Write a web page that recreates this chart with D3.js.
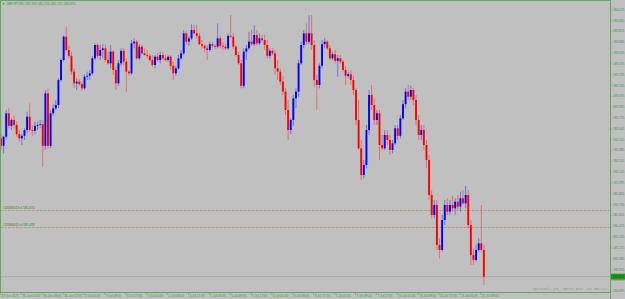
<!DOCTYPE html>
<html>
<head>
<meta charset="utf-8">
<script src="https://cdn.jsdelivr.net/npm/d3@7"></script>
<style>
html, body { margin: 0; padding: 0; background: #c0c0c0; overflow: hidden; }
</style>
</head>
<body>
<div id="viz"></div>
<script>
// GBPJPY H1, one row per bar: [open, high, low, close]
const symbol = "GBPJPY,H1";
const candles = [
    [182.53, 182.58, 182.39, 182.44], [182.44, 182.56, 182.35, 182.55], [182.55, 182.87, 182.52, 182.83], [182.83, 182.89, 182.65, 182.68],
    [182.68, 182.77, 182.63, 182.75], [182.75, 182.80, 182.65, 182.69], [182.69, 182.73, 182.55, 182.58], [182.58, 182.63, 182.49, 182.53],
    [182.53, 182.58, 182.45, 182.56], [182.56, 182.65, 182.51, 182.63], [182.63, 182.85, 182.59, 182.79], [182.79, 182.95, 182.61, 182.63],
    [182.63, 182.69, 182.56, 182.62], [182.62, 182.73, 182.58, 182.68], [182.68, 182.73, 182.63, 182.69], [182.69, 182.75, 182.65, 182.70],
    [182.70, 182.75, 182.19, 182.44], [182.44, 183.11, 182.39, 183.07], [183.07, 183.13, 182.41, 182.44], [182.44, 182.87, 182.41, 182.83],
    [182.83, 182.94, 182.80, 182.89], [182.89, 182.99, 182.87, 182.93], [182.93, 183.25, 182.89, 183.23], [183.23, 183.49, 183.21, 183.47],
    [183.47, 183.77, 183.45, 183.75], [183.75, 183.87, 183.57, 183.59], [183.59, 183.64, 183.49, 183.52], [183.52, 183.57, 183.29, 183.33],
    [183.33, 183.37, 183.13, 183.19], [183.19, 183.25, 183.11, 183.21], [183.21, 183.24, 183.16, 183.18], [183.18, 183.21, 183.10, 183.13],
    [183.13, 183.30, 183.11, 183.27], [183.27, 183.33, 183.23, 183.28], [183.28, 183.35, 183.23, 183.31], [183.31, 183.52, 183.29, 183.49],
    [183.49, 183.67, 183.47, 183.65], [183.65, 183.67, 183.49, 183.52], [183.52, 183.65, 183.47, 183.59], [183.59, 183.66, 183.49, 183.61],
    [183.61, 183.66, 183.45, 183.47], [183.47, 183.57, 183.41, 183.43], [183.43, 183.65, 183.37, 183.57], [183.57, 183.59, 183.29, 183.35],
    [183.35, 183.39, 183.11, 183.19], [183.19, 183.47, 183.16, 183.43], [183.43, 183.61, 183.40, 183.58], [183.58, 183.61, 183.41, 183.45],
    [183.45, 183.49, 183.09, 183.33], [183.33, 183.35, 183.28, 183.31], [183.31, 183.71, 183.29, 183.67], [183.67, 183.73, 183.61, 183.69],
    [183.69, 183.71, 183.47, 183.49], [183.49, 183.66, 183.47, 183.63], [183.63, 183.65, 183.53, 183.55], [183.55, 183.61, 183.52, 183.53],
    [183.53, 183.59, 183.49, 183.52], [183.52, 183.54, 183.45, 183.47], [183.47, 183.53, 183.39, 183.41], [183.41, 183.53, 183.37, 183.51],
    [183.51, 183.55, 183.45, 183.47], [183.47, 183.57, 183.43, 183.53], [183.53, 183.57, 183.47, 183.49], [183.49, 183.54, 183.45, 183.47],
    [183.47, 183.53, 183.45, 183.51], [183.51, 183.53, 183.35, 183.40], [183.40, 183.45, 183.23, 183.31], [183.31, 183.40, 183.28, 183.37],
    [183.37, 183.53, 183.35, 183.49], [183.49, 183.59, 183.47, 183.55], [183.55, 183.83, 183.53, 183.79], [183.79, 183.82, 183.65, 183.69],
    [183.69, 183.76, 183.64, 183.73], [183.73, 183.90, 183.71, 183.83], [183.83, 183.89, 183.78, 183.79], [183.79, 183.89, 183.73, 183.76],
    [183.76, 183.79, 183.65, 183.66], [183.66, 183.71, 183.61, 183.64], [183.64, 183.66, 183.57, 183.61], [183.61, 183.65, 183.47, 183.59],
    [183.59, 183.69, 183.57, 183.66], [183.66, 183.69, 183.61, 183.64], [183.64, 183.66, 183.60, 183.63], [183.63, 183.91, 183.61, 183.73],
    [183.73, 183.76, 183.61, 183.64], [183.64, 183.69, 183.59, 183.63], [183.63, 183.66, 183.59, 183.61], [183.61, 183.79, 183.59, 183.76],
    [183.76, 184.01, 183.73, 183.75], [183.75, 183.79, 183.60, 183.63], [183.63, 183.65, 183.51, 183.53], [183.53, 183.57, 183.41, 183.43],
    [183.43, 183.47, 183.13, 183.16], [183.16, 183.61, 183.13, 183.57], [183.57, 183.65, 183.47, 183.61], [183.61, 183.81, 183.59, 183.69],
    [183.69, 183.83, 183.64, 183.66], [183.66, 183.89, 183.64, 183.77], [183.77, 183.83, 183.65, 183.67], [183.67, 183.79, 183.65, 183.73],
    [183.73, 183.77, 183.69, 183.71], [183.71, 183.77, 183.59, 183.65], [183.65, 183.71, 183.49, 183.52], [183.52, 183.61, 183.49, 183.58],
    [183.58, 183.61, 183.53, 183.55], [183.55, 183.59, 183.29, 183.37], [183.37, 183.47, 183.23, 183.33], [183.33, 183.37, 183.17, 183.21],
    [183.21, 183.28, 183.05, 183.09], [183.09, 183.13, 182.81, 182.87], [182.87, 182.99, 182.51, 182.63], [182.63, 182.77, 182.58, 182.75],
    [182.75, 183.05, 182.68, 183.01], [183.01, 183.13, 182.89, 183.09], [183.09, 183.47, 183.03, 183.43], [183.43, 183.69, 183.41, 183.65],
    [183.65, 183.83, 183.61, 183.79], [183.79, 183.91, 183.65, 183.69], [183.69, 184.01, 183.66, 183.79], [183.79, 184.01, 183.59, 183.65],
    [183.65, 183.71, 183.15, 183.23], [183.23, 183.29, 182.87, 183.17], [183.17, 183.43, 183.13, 183.40], [183.40, 183.71, 183.37, 183.66],
    [183.66, 183.73, 183.61, 183.69], [183.69, 183.71, 183.59, 183.61], [183.61, 183.65, 183.47, 183.49], [183.49, 183.57, 183.47, 183.54],
    [183.54, 183.59, 183.43, 183.46], [183.46, 183.53, 183.27, 183.49], [183.49, 183.53, 183.42, 183.45], [183.45, 183.47, 183.33, 183.35],
    [183.35, 183.40, 183.17, 183.28], [183.28, 183.33, 183.25, 183.30], [183.30, 183.35, 183.17, 183.23], [183.23, 183.28, 183.05, 183.11],
    [183.11, 183.13, 182.69, 182.75], [182.75, 182.99, 182.39, 182.41], [182.41, 182.51, 182.03, 182.09], [182.09, 182.27, 182.05, 182.21],
    [182.21, 182.69, 182.17, 182.63], [182.63, 183.11, 182.57, 183.05], [183.05, 183.17, 182.87, 182.93], [182.93, 183.01, 182.69, 182.75],
    [182.75, 182.87, 182.69, 182.83], [182.83, 182.87, 182.27, 182.45], [182.45, 182.57, 182.39, 182.41], [182.41, 182.63, 182.39, 182.57],
    [182.57, 182.63, 182.45, 182.51], [182.51, 182.57, 182.33, 182.39], [182.39, 182.51, 182.35, 182.47], [182.47, 182.69, 182.45, 182.65],
    [182.65, 182.69, 182.51, 182.56], [182.56, 182.81, 182.53, 182.77], [182.77, 182.99, 182.75, 182.94], [182.94, 183.13, 182.89, 183.09],
    [183.09, 183.17, 182.99, 183.03], [183.03, 183.16, 182.99, 183.11], [183.11, 183.13, 182.93, 182.99], [182.99, 183.05, 182.69, 182.75],
    [182.75, 182.81, 182.51, 182.57], [182.57, 182.69, 182.51, 182.63], [182.63, 182.69, 182.39, 182.45], [182.45, 182.51, 182.17, 182.27],
    [182.27, 182.33, 181.79, 181.85], [181.85, 181.91, 181.57, 181.61], [181.61, 181.79, 181.57, 181.73], [181.73, 181.79, 181.19, 181.25],
    [181.25, 181.33, 181.09, 181.19], [181.19, 181.61, 181.17, 181.55], [181.55, 181.79, 181.49, 181.73], [181.73, 181.81, 181.61, 181.65],
    [181.65, 181.79, 181.61, 181.73], [181.73, 181.84, 181.65, 181.69], [181.69, 181.81, 181.61, 181.77], [181.77, 181.85, 181.67, 181.71],
    [181.71, 181.89, 181.65, 181.81], [181.81, 181.91, 181.73, 181.75], [181.75, 181.96, 181.69, 181.85], [181.85, 181.91, 181.45, 181.49],
    [181.49, 181.55, 181.01, 181.13], [181.13, 181.21, 181.01, 181.07], [181.07, 181.25, 181.05, 181.19], [181.19, 181.33, 181.17, 181.27],
    [181.27, 181.73, 181.17, 181.19], [181.19, 181.25, 180.77, 180.87]
];

const priceTicks = [
    "184.075", "183.945", "183.815", "183.685", "183.555", "183.425", "183.295", "183.165", "183.035",
    "182.905", "182.775", "182.645", "182.515", "182.385", "182.255", "182.125", "181.995", "181.865",
    "181.735", "181.605", "181.475", "181.345", "181.215", "181.085", "180.955", "180.825", "180.695"
];

const timeLabels = [
    "29 Jun 2023", "30 Jun 01:00", "30 Jun 09:00", "30 Jun 17:00", "3 Jul 01:00", "3 Jul 09:00",
    "3 Jul 17:00", "4 Jul 01:00", "4 Jul 09:00", "4 Jul 17:00", "5 Jul 01:00", "5 Jul 09:00",
    "5 Jul 17:00", "6 Jul 01:00", "6 Jul 09:00", "6 Jul 17:00", "7 Jul 01:00", "7 Jul 09:00",
    "7 Jul 17:00", "10 Jul 01:00", "10 Jul 09:00", "10 Jul 17:00", "11 Jul 01:00", "11 Jul 09:00"
];
const barsPerLabel = 8;

const orderLines = [
    { label: "#20580613 sl", price: 181.67 },
    { label: "#20580612 sl", price: 181.47 }
];

const spreadText = "Spread: 13, Next Bar in 56:21";

document.addEventListener("DOMContentLoaded", () => {
    const width = 625;
    const height = 299;
    const plotRight = 610;
    const plotBottom = 292;
    const green = "#5ea85e";
    const textGreen = "#3f953f";

    const svg = d3.select('#viz').append('svg')
        .attr('width', width)
        .attr('height', height);

    svg.append('rect')
        .attr('width', width)
        .attr('height', height)
        .attr('fill', '#c0c0c0');

    const x = d3.scaleLinear()
        .domain([0, candles.length - 1])
        .range([1, 483.9]);

    const y = d3.scaleLinear()
        .domain([184.19, 180.70])
        .range([0, 290.8]);

    const fmt = d3.format(".3f");
    const last = candles[candles.length - 1];

    // bid line
    svg.append("line")
        .attr("x1", 0).attr("x2", plotRight)
        .attr("y1", y(last[3])).attr("y2", y(last[3]))
        .attr("stroke", "#adadad")
        .attr("stroke-width", 1.2);

    // order lines, red and green dashes
    orderLines.forEach(o => {
        const yy = Math.round(y(o.price)) + 0.5;
        svg.append("line")
            .attr("x1", 0).attr("x2", plotRight)
            .attr("y1", yy).attr("y2", yy)
            .attr("stroke", "#e07878")
            .attr("stroke-dasharray", "2.5,1,1,3.5")
            .attr("stroke-width", 0.8);
        svg.append("line")
            .attr("x1", 0).attr("x2", plotRight)
            .attr("y1", yy).attr("y2", yy)
            .attr("stroke", "#78b878")
            .attr("stroke-dasharray", "2.5,5.5")
            .attr("stroke-dashoffset", -4.5)
            .attr("stroke-width", 0.8);
        svg.append("text")
            .attr("x", 3)
            .attr("y", yy - 1.5)
            .attr("font-family", "Liberation Sans")
            .attr("font-size", "3.2px")
            .attr("fill", "#2f7f2f")
            .text(o.label + " " + fmt(o.price));
    });

    // candles
    const bars = svg.append("g").selectAll("g")
        .data(candles)
        .enter()
        .append("g");

    bars.append("line")
        .attr("x1", (d, i) => x(i))
        .attr("x2", (d, i) => x(i))
        .attr("y1", d => y(d[1]))
        .attr("y2", d => y(d[2]))
        .attr("stroke", d => d[3] >= d[0] ? "#0000ff" : "#ff0000")
        .attr("stroke-opacity", 0.45)
        .attr("stroke-width", 0.9);

    bars.append("rect")
        .attr("x", (d, i) => x(i) - 0.95)
        .attr("width", 1.9)
        .attr("y", d => y(Math.max(d[0], d[3])))
        .attr("height", d => Math.max(0.8, Math.abs(y(d[0]) - y(d[3]))))
        .attr("fill", d => d[3] >= d[0] ? "#0000ff" : "#ff0000");

    // frame
    svg.append("line").attr("x1", 0.5).attr("x2", 0.5).attr("y1", 0).attr("y2", plotBottom)
        .attr("stroke", green);
    svg.append("line").attr("x1", 0).attr("x2", plotRight).attr("y1", 0.5).attr("y2", 0.5)
        .attr("stroke", green);
    svg.append("line").attr("x1", plotRight + 0.5).attr("x2", plotRight + 0.5).attr("y1", 0).attr("y2", height)
        .attr("stroke", green);
    svg.append("line").attr("x1", 0).attr("x2", plotRight).attr("y1", plotBottom + 0.5).attr("y2", plotBottom + 0.5)
        .attr("stroke", green);

    // price axis
    const pAxis = svg.append("g").selectAll("g")
        .data(priceTicks)
        .enter()
        .append("g")
        .attr("transform", d => "translate(" + plotRight + " " + y(+d) + ")");

    pAxis.append("line").attr("x2", 2).attr("stroke", green).attr("stroke-width", 0.6);
    pAxis.append("text")
        .attr("x", 3)
        .attr("dy", "0.35em")
        .attr("font-family", "Liberation Sans")
        .attr("font-size", "3.1px")
        .attr("fill", textGreen)
        .text(d => d);

    // current price box
    const bid = svg.append("g").attr("transform", "translate(" + plotRight + " " + y(last[3]) + ")");
    bid.append("rect").attr("x", 1).attr("y", -3).attr("width", 14).attr("height", 6).attr("fill", "#1f9a1f");
    bid.append("text")
        .attr("x", 3)
        .attr("dy", "0.35em")
        .attr("font-family", "Liberation Sans")
        .attr("font-size", "3.1px")
        .attr("fill", "#0b4f0b")
        .text(fmt(last[3]));

    // time axis
    const tAxis = svg.append("g").selectAll("g")
        .data(timeLabels)
        .enter()
        .append("g")
        .attr("transform", (d, k) => "translate(" + (x(k * barsPerLabel) - 0.5) + " " + plotBottom + ")");

    tAxis.append("line").attr("y2", 3).attr("stroke", green).attr("stroke-width", 0.6);
    tAxis.append("text")
        .attr("x", 1)
        .attr("y", 5)
        .attr("font-family", "Liberation Sans")
        .attr("font-size", "3.1px")
        .attr("fill", textGreen)
        .text(d => d);

    // title
    svg.append("text")
        .attr("x", 2)
        .attr("y", 5)
        .attr("font-family", "Liberation Sans")
        .attr("font-size", "3.3px")
        .attr("fill", textGreen)
        .text("\u25BC " + symbol + "  " + last.map(fmt).join(" "));

    // spread info
    svg.append("text")
        .attr("x", plotRight - 3)
        .attr("y", plotBottom - 2)
        .attr("text-anchor", "end")
        .attr("font-family", "Liberation Mono")
        .attr("font-size", "4.3px")
        .attr("fill", "#7a9f7a")
        .text(spreadText);
});
</script>
</body>
</html>
